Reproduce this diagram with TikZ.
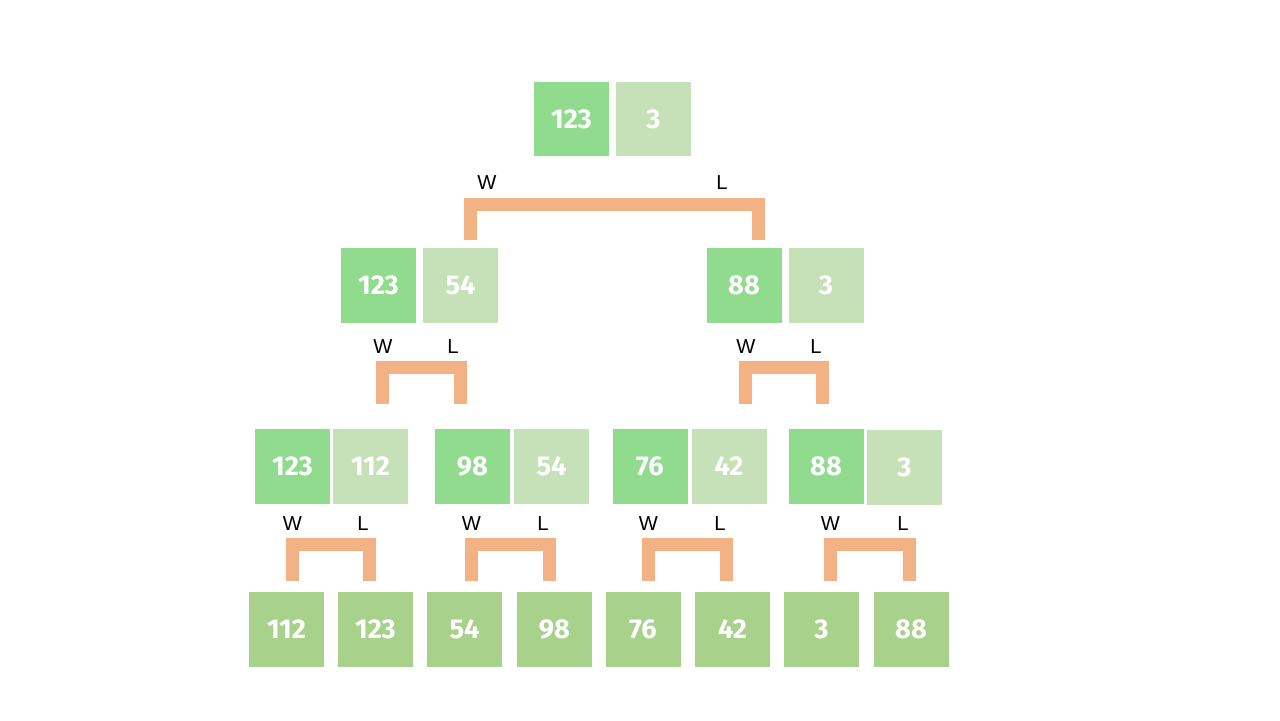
\documentclass[tikz,border=0pt]{standalone}
\usepackage{fontspec}
\setmainfont{Fira Sans}
\newfontfamily\tagfont{Liberation Sans}
\definecolor{wingreen}{HTML}{91DB8F}
\definecolor{losegreen}{HTML}{C6E1B7}
\definecolor{leafgreen}{HTML}{A8D28C}
\definecolor{bracketorange}{HTML}{F3B284}
\tikzset{
  box/.style={minimum width=1.5cm, minimum height=1.5cm, inner sep=0pt, text=white,
    font=\bfseries\fontsize{15.5}{15.5}\selectfont},
  win/.style={box, fill=wingreen},
  lose/.style={box, fill=losegreen},
  leaf/.style={box, fill=leafgreen},
  tag/.style={inner sep=0pt, text=black, font=\tagfont\fontsize{11.5}{11.5}\selectfont},
  bracket/.style={draw=bracketorange, line width=0.26cm, line join=miter}
}
\begin{document}
\begin{tikzpicture}[x=0.02cm, y=-0.02cm]
\useasboundingbox (0,0) rectangle (1280,720);
% final
\node[win]  (r0w) at (571.5,119) {123};
\node[lose] (r0l) at (653.5,119) {3};
\node[tag] (t0w) at (487,183) {W};
\node[tag] (t0l) at (722,183) {L};
\coordinate (b0w) at (470.5,240);
\coordinate (b0l) at (758,240);
\draw[bracket] (b0w) -- ++(0,-35.5) -| (b0l);
% semi finals
\node[win]  (r1aw) at (378.5,285.5) {123};
\node[lose] (r1al) at (460.5,285.5) {54};
\node[win]  (r1bw) at (744,285.5) {88};
\node[lose] (r1bl) at (826,285.5) {3};
\node[tag] (t1aw) at (383,347) {W};
\node[tag] (t1al) at (453,347) {L};
\node[tag] (t1bw) at (746,347) {W};
\node[tag] (t1bl) at (816,347) {L};
\coordinate (b1aw) at (382.5,404);
\coordinate (b1al) at (460.5,404);
\coordinate (b1bw) at (745.5,404);
\coordinate (b1bl) at (822.5,404);
\draw[bracket] (b1aw) -- ++(0,-36.5) -| (b1al);
\draw[bracket] (b1bw) -- ++(0,-36.5) -| (b1bl);
% quarter finals
\node[win]  (r2aw) at (292.5,466) {123};
\node[lose] (r2al) at (370.5,466) {112};
\node[win]  (r2bw) at (472.5,466) {98};
\node[lose] (r2bl) at (551.5,466) {54};
\node[win]  (r2cw) at (650,466) {76};
\node[lose] (r2cl) at (729,466) {42};
\node[win]  (r2dw) at (826,466) {88};
\node[lose] (r2dl) at (904.5,467.5) {3};
\foreach \n/\xw/\xl in {a/292.5/369.5, b/471.5/549.5, c/648.5/726.5, d/830.5/909.5}{
  \node[tag] (t2\n w) at (\xw,524) {W};
  \node[tag] (t2\n l) at (\xl-6.5,524) {L};
  \coordinate (b2\n w) at (\xw,581);
  \coordinate (b2\n l) at (\xl,581);
  \draw[bracket] (b2\n w) -- ++(0,-36.5) -| (b2\n l);
}
% first round
\node[leaf] (p1) at (286.5,629) {112};
\node[leaf] (p2) at (375.5,629) {123};
\node[leaf] (p3) at (464.5,629) {54};
\node[leaf] (p4) at (554.5,629) {98};
\node[leaf] (p5) at (643,629) {76};
\node[leaf] (p6) at (732.5,629) {42};
\node[leaf] (p7) at (821.5,629) {3};
\node[leaf] (p8) at (911,629) {88};
\end{tikzpicture}
\end{document}
